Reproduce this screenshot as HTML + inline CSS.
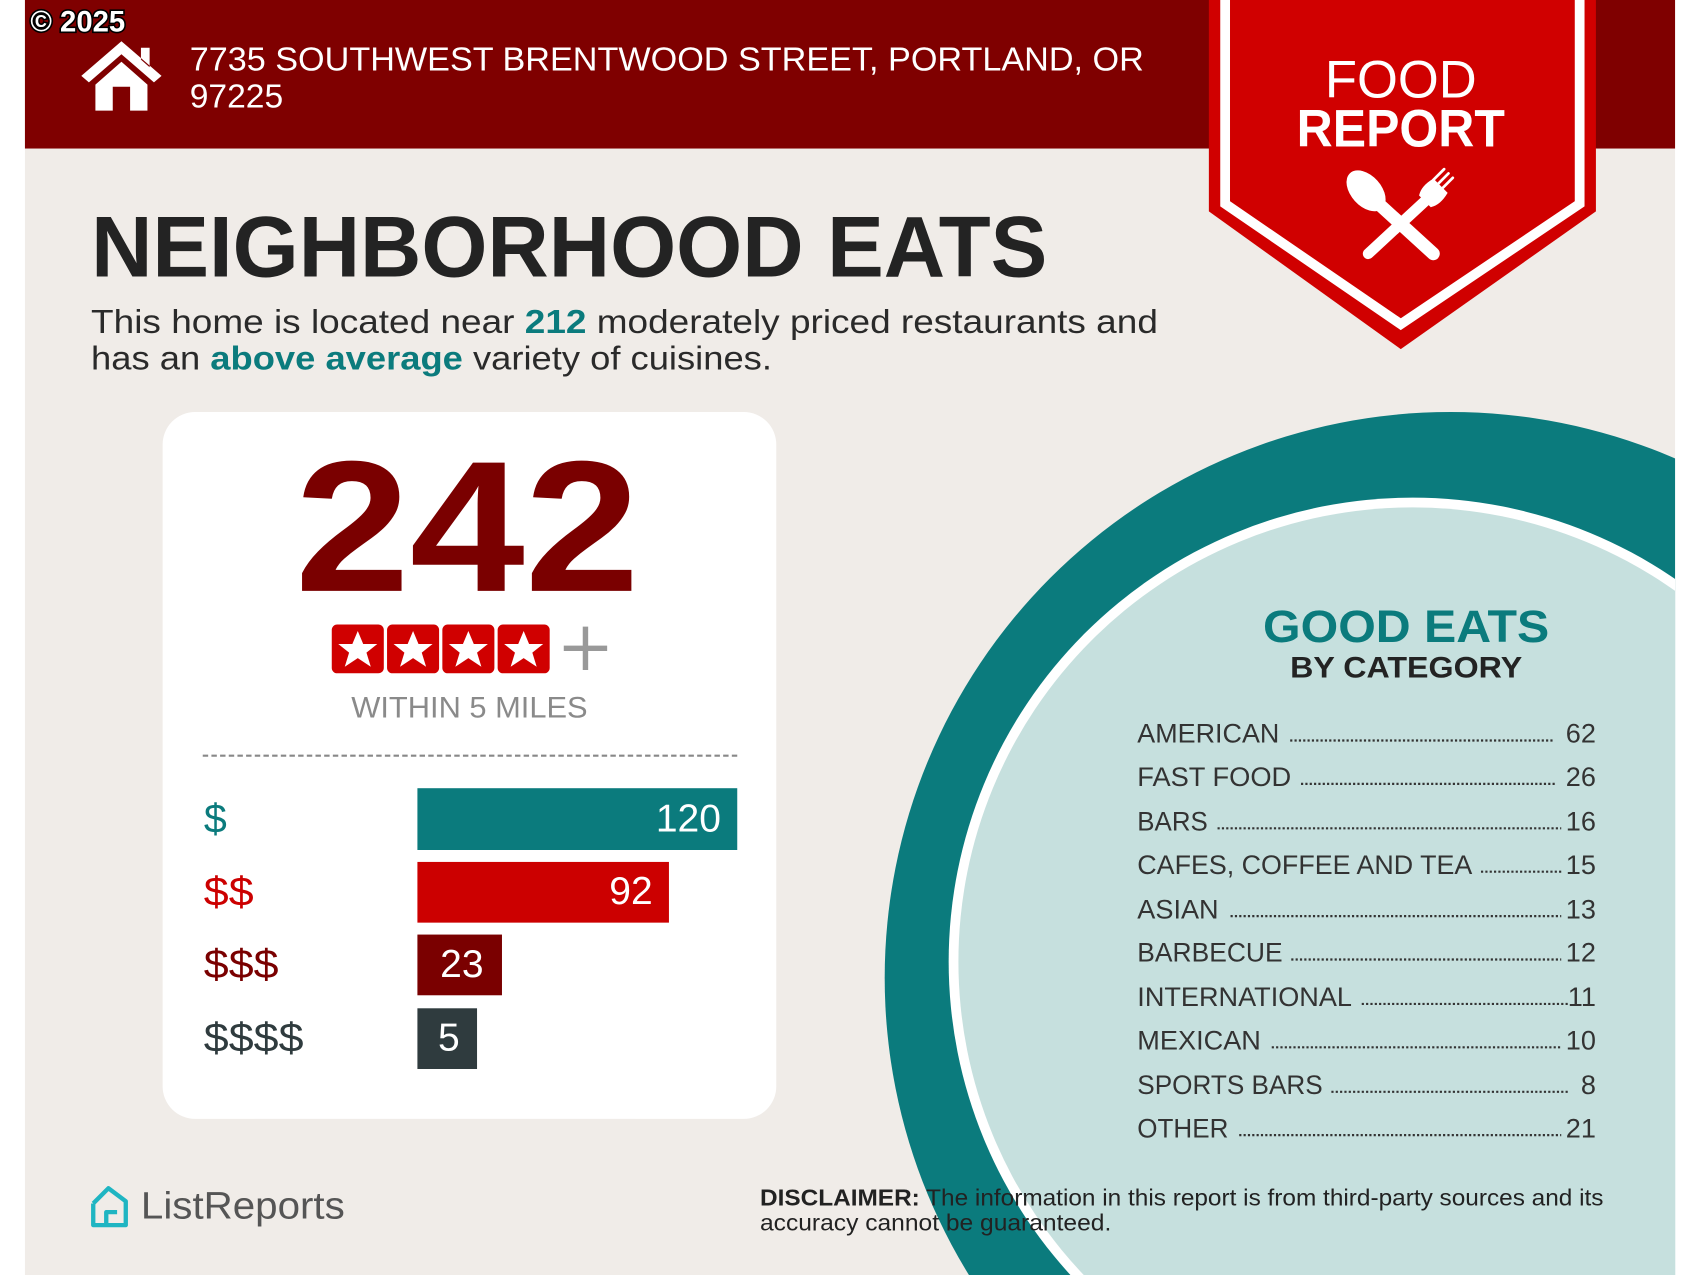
<!DOCTYPE html>
<html><head><meta charset="utf-8"><style>
html,body{margin:0;padding:0;background:#fff;overflow:hidden;width:1700px;height:1275px;}
svg{display:block;}
text{font-family:"Liberation Sans",sans-serif;}
</style></head><body>
<svg width="1700" height="1275" viewBox="0 0 1568 1176" preserveAspectRatio="none" xmlns="http://www.w3.org/2000/svg">
<rect x="0" y="0" width="1568" height="1176" fill="#fff"/>
<rect x="23" y="0" width="1522" height="1176" fill="#f0ece8"/>
<clipPath id="pg"><rect x="23" y="0" width="1522" height="1176"/></clipPath>
<g clip-path="url(#pg)">
<circle cx="1338" cy="902" r="522" fill="#0b7b7d"/>
<circle cx="1303" cy="887" r="428" fill="#fff"/>
<circle cx="1303" cy="887" r="419" fill="#c6e0de"/>
</g>
<rect x="23" y="0" width="1522" height="137" fill="#7f0000"/>
<text x="28" y="29" font-size="27" font-weight="bold" fill="#fff" stroke="#000" stroke-width="3" paint-order="stroke">© 2025</text>
<path d="M112 38 L75 70 L82 76 L112 50 L142 76 L149 70 Z M130 44 h8 v18 l-8 -7 Z M88 78 L112 57 L136 78 V102 H120 V80 H104 V102 H88 Z" fill="#fff"/>
<text x="175" y="65" font-size="31" fill="#fff" textLength="880" lengthAdjust="spacingAndGlyphs">7735 SOUTHWEST BRENTWOOD STREET, PORTLAND, OR</text>
<text x="175" y="99" font-size="31" fill="#fff">97225</text>
<polygon points="1115,0 1472,0 1472,195 1292,322 1115,195" fill="#d00000"/>
<polyline points="1130,0 1130,188 1292,299 1457,188 1457,0" fill="none" stroke="#fff" stroke-width="9"/>
<text x="1292" y="90" font-size="49" fill="#fff" text-anchor="middle" textLength="140" lengthAdjust="spacingAndGlyphs">FOOD</text>
<text x="1292" y="135" font-size="49" font-weight="bold" fill="#fff" text-anchor="middle" textLength="192" lengthAdjust="spacingAndGlyphs">REPORT</text>
<g fill="#fff" stroke="#fff" stroke-linecap="round">
<line x1="1265" y1="182" x2="1322" y2="234" stroke-width="12"/>
<ellipse cx="1260" cy="176" rx="22" ry="14" transform="rotate(48 1260 176)" stroke="none"/>
<line x1="1316" y1="184" x2="1262" y2="234" stroke-width="10"/>
<path d="M1310 180 Q1312 172 1322 166 L1334 178 Q1328 188 1320 190 Z" stroke-width="2"/>
<g stroke-width="2.5"><line x1="1322" y1="166" x2="1332" y2="156"/><line x1="1326" y1="170" x2="1336" y2="160"/><line x1="1330" y1="174" x2="1340" y2="164"/></g>
</g>
<text x="84" y="255" font-size="80" font-weight="bold" fill="#232323" textLength="882" lengthAdjust="spacingAndGlyphs">NEIGHBORHOOD EATS</text>
<text x="84" y="307" font-size="31" fill="#2a2a2a" textLength="984" lengthAdjust="spacingAndGlyphs">This home is located near <tspan fill="#0b7b7d" font-weight="bold">212</tspan> moderately priced restaurants and</text>
<text x="84" y="341" font-size="31" fill="#2a2a2a" textLength="628" lengthAdjust="spacingAndGlyphs">has an <tspan fill="#0b7b7d" font-weight="bold">above average</tspan> variety of cuisines.</text>
<rect x="150" y="380" width="566" height="652" rx="30" fill="#fff"/>
<text x="431" y="545" font-size="172" font-weight="bold" fill="#7a0000" text-anchor="middle" textLength="318" lengthAdjust="spacingAndGlyphs">242</text>
<g>
<rect x="306" y="576" width="48" height="45" rx="5" fill="#d00000"/>
<rect x="357" y="576" width="48" height="45" rx="5" fill="#d00000"/>
<rect x="408" y="576" width="48" height="45" rx="5" fill="#d00000"/>
<rect x="459" y="576" width="48" height="45" rx="5" fill="#d00000"/>
<g fill="#fff">
<polygon id="st" points="330,582 335,594 348,594 338,602 342,615 330,607 318,615 322,602 312,594 325,594"/>
<use href="#st" x="51"/><use href="#st" x="102"/><use href="#st" x="153"/>
</g>
<path d="M540 578 V618 M520 598 H560" stroke="#999" stroke-width="5"/>
</g>
<text x="433" y="662" font-size="27" fill="#8a8a8a" text-anchor="middle" textLength="218" lengthAdjust="spacingAndGlyphs">WITHIN 5 MILES</text>
<line x1="187" y1="697" x2="680" y2="697" stroke="#888" stroke-width="2" stroke-dasharray="5 3"/>
<rect x="385" y="727" width="295" height="57" fill="#0b7b7d"/>
<rect x="385" y="795" width="232" height="56" fill="#cc0000"/>
<rect x="385" y="862" width="78" height="56" fill="#7a0000"/>
<rect x="385" y="930" width="55" height="56" fill="#2f3b3e"/>
<g font-size="38">
<text x="188" y="768" fill="#0b7b7d">$</text>
<text x="188" y="835" fill="#cc0000" textLength="46" lengthAdjust="spacingAndGlyphs">$$</text>
<text x="188" y="902" fill="#7a0000" textLength="69" lengthAdjust="spacingAndGlyphs">$$$</text>
<text x="188" y="970" fill="#2f3b3e" textLength="92" lengthAdjust="spacingAndGlyphs">$$$$</text>
<text x="665" y="767" fill="#fff" text-anchor="end" font-size="36">120</text>
<text x="602" y="834" fill="#fff" text-anchor="end" font-size="36">92</text>
<text x="426" y="901" fill="#fff" text-anchor="middle" font-size="36">23</text>
<text x="414" y="969" fill="#fff" text-anchor="middle" font-size="36">5</text>
</g>
<text x="1297" y="592" font-size="42" font-weight="bold" fill="#0b7b7d" text-anchor="middle" textLength="264" lengthAdjust="spacingAndGlyphs">GOOD EATS</text>
<text x="1297" y="625" font-size="27" font-weight="bold" fill="#232323" text-anchor="middle" textLength="214" lengthAdjust="spacingAndGlyphs">BY CATEGORY</text>
<g font-size="25" fill="#333">
<text x="1049" y="685" textLength="131" lengthAdjust="spacingAndGlyphs">AMERICAN</text><text x="1472" y="685" text-anchor="end">62</text>
<text x="1049" y="725" textLength="142" lengthAdjust="spacingAndGlyphs">FAST FOOD</text><text x="1472" y="725" text-anchor="end">26</text>
<text x="1049" y="766" textLength="65" lengthAdjust="spacingAndGlyphs">BARS</text><text x="1472" y="766" text-anchor="end">16</text>
<text x="1049" y="806" textLength="309" lengthAdjust="spacingAndGlyphs">CAFES, COFFEE AND TEA</text><text x="1472" y="806" text-anchor="end">15</text>
<text x="1049" y="847" textLength="75" lengthAdjust="spacingAndGlyphs">ASIAN</text><text x="1472" y="847" text-anchor="end">13</text>
<text x="1049" y="887" textLength="134" lengthAdjust="spacingAndGlyphs">BARBECUE</text><text x="1472" y="887" text-anchor="end">12</text>
<text x="1049" y="928" textLength="198" lengthAdjust="spacingAndGlyphs">INTERNATIONAL</text><text x="1472" y="928" text-anchor="end">11</text>
<text x="1049" y="968" textLength="114" lengthAdjust="spacingAndGlyphs">MEXICAN</text><text x="1472" y="968" text-anchor="end">10</text>
<text x="1049" y="1009" textLength="171" lengthAdjust="spacingAndGlyphs">SPORTS BARS</text><text x="1472" y="1009" text-anchor="end">8</text>
<text x="1049" y="1049" textLength="84" lengthAdjust="spacingAndGlyphs">OTHER</text><text x="1472" y="1049" text-anchor="end">21</text>
</g>
<g stroke="#333" stroke-width="2" stroke-dasharray="2 2">
<line x1="1190" y1="683" x2="1434" y2="683"/>
<line x1="1200" y1="723" x2="1434" y2="723"/>
<line x1="1123" y1="764" x2="1440" y2="764"/>
<line x1="1366" y1="804" x2="1440" y2="804"/>
<line x1="1135" y1="845" x2="1440" y2="845"/>
<line x1="1191" y1="885" x2="1440" y2="885"/>
<line x1="1256" y1="926" x2="1446" y2="926"/>
<line x1="1173" y1="966" x2="1440" y2="966"/>
<line x1="1228" y1="1007" x2="1446" y2="1007"/>
<line x1="1143" y1="1047" x2="1440" y2="1047"/>
</g>
<path d="M86 1110 L100 1096 L116 1108 V1130 H98 M86 1110 V1130 H98 V1118 L108 1118" fill="none" stroke="#1fb5c2" stroke-width="4" stroke-linejoin="round"/>
<text x="130" y="1124" font-size="35" fill="#555" textLength="188" lengthAdjust="spacingAndGlyphs">ListReports</text>
<text x="701" y="1112" font-size="21" fill="#222" textLength="778" lengthAdjust="spacingAndGlyphs"><tspan font-weight="bold">DISCLAIMER:</tspan> The information in this report is from third-party sources and its</text>
<text x="701" y="1135" font-size="21" fill="#222" textLength="324" lengthAdjust="spacingAndGlyphs">accuracy cannot be guaranteed.</text>
</svg>
</body></html>
